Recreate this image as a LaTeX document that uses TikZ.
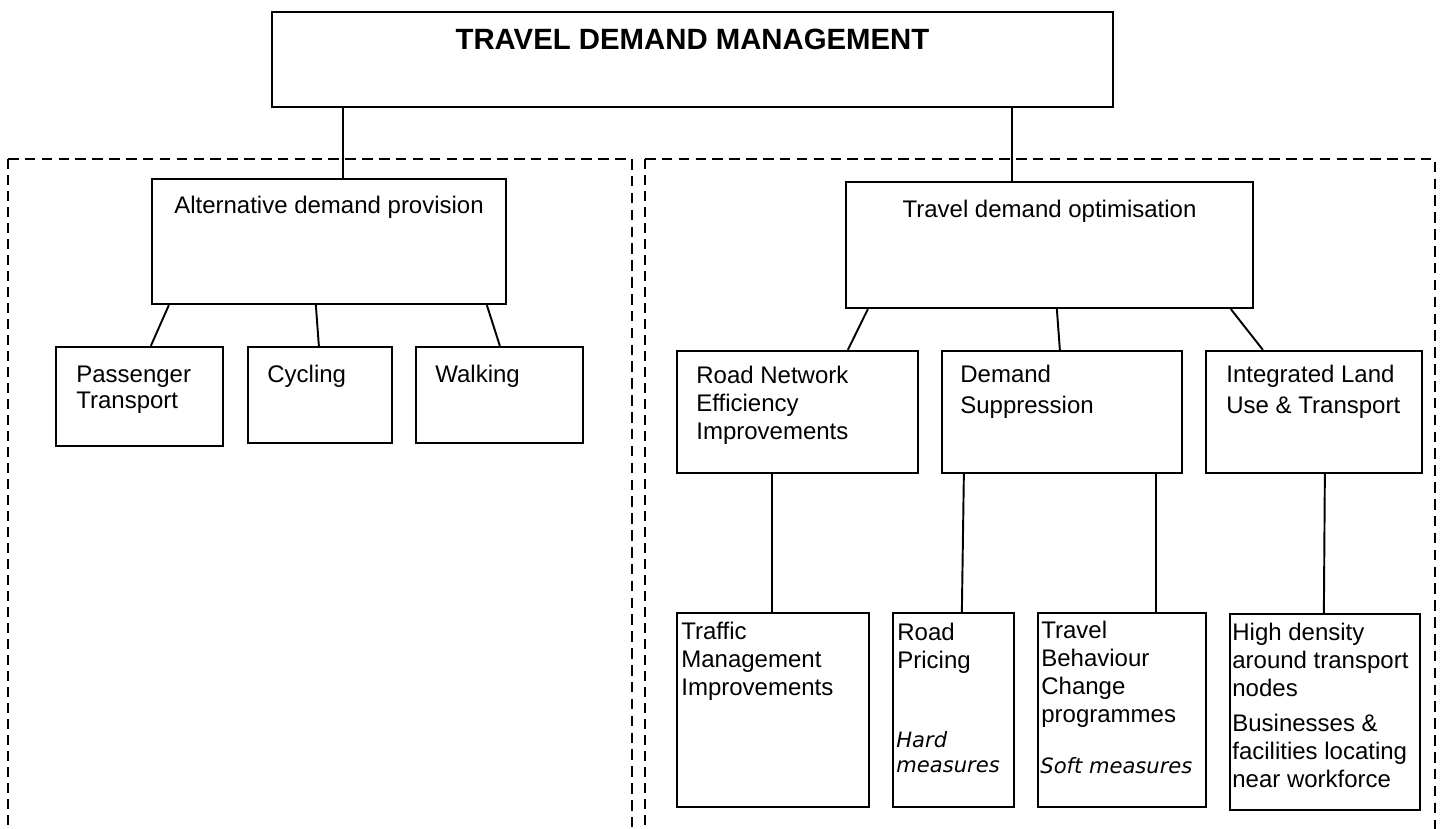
\documentclass[tikz,border=0pt]{standalone}
\usepackage{fontspec}
\setmainfont{Liberation Sans}
\newfontfamily\measfont{DejaVu Sans}
\usetikzlibrary{fit}

\begin{document}
\begin{tikzpicture}[x=0.02cm, y=-0.02cm]
    % ================= styles =================
    % txt: anchored at the baseline of its LAST line
    \tikzset{
        box/.style={draw=black, line width=1.3pt, inner sep=0pt},
        link/.style={line width=1.1pt, black},
        frame/.style={line width=1.2pt, dash pattern=on 6pt off 3.6pt},
        frameside/.style={line width=0.6pt, dash pattern=on 5.7pt off 3.4pt},
        txt/.style={anchor=base west, align=left, inner sep=0pt, font=\fontsize{13.66}{15.9}\selectfont},
        ctxt/.style={anchor=base, inner sep=0pt, font=\fontsize{13.66}{15.9}\selectfont},
        meas/.style={anchor=base west, align=left, inner sep=0pt, font=\measfont\itshape\fontsize{12}{14.2}\selectfont}
    }
    \useasboundingbox (0,0) rectangle (1442,828);

    % ================= dashed frames =================
    \draw[frame] (8,159) -- (632,159) -- (632,830);
    \draw[frameside] (8,159) -- (8,830);
    \draw[frame] (645,159) -- (1435,159) -- (1435,830);
    \draw[frameside] (645,159) -- (645,830);

    % ================= top level =================
    \node[box, fit={(272,12) (1113,107)}] (tdm) {};
    \node[anchor=base, inner sep=0pt, font=\fontsize{16.7}{20}\selectfont\bfseries] (tdmtxt) at (692.5,50) {TRAVEL DEMAND MANAGEMENT};

    % ================= left: alternative provision =================
    \node[box, fit={(152,179) (506,304)}] (adp) {};
    \node[ctxt] (adptxt) at (329,213) {Alternative demand provision};

    \node[box, fit={(56,347) (223,446)}] (pt) {};
    \node[txt, font=\fontsize{13.66}{14.6}\selectfont] (pttxt) at (76,408) {Passenger\\Transport};
    \node[box, fit={(248,347) (392,443)}] (cyc) {};
    \node[txt] (cyctxt) at (267,382) {Cycling};
    \node[box, fit={(416,347) (583,443)}] (walk) {};
    \node[txt] (walktxt) at (435,382) {Walking};

    % ================= right: optimisation =================
    \node[box, fit={(846,182) (1253,308)}] (tdo) {};
    \node[ctxt] (tdotxt) at (1049.5,217) {Travel demand optimisation};

    \node[box, fit={(677,351) (918,473)}] (rne) {};
    \node[txt] (rnetxt) at (696,439) {Road Network\\Efficiency\\Improvements};
    \node[box, fit={(942,351) (1182,473)}] (dsup) {};
    \node[txt, font=\fontsize{13.66}{17.2}\selectfont] (dsuptxt) at (960,413) {Demand\\Suppression};
    \node[box, fit={(1206,351) (1422,473)}] (ilu) {};
    \node[txt, font=\fontsize{13.66}{17.2}\selectfont] (ilutxt) at (1226,413) {Integrated Land\\Use \& Transport};

    % ================= measures =================
    \node[box, fit={(677,613) (869,807)}] (tmi) {};
    \node[txt] (tmitxt) at (681,695) {Traffic\\Management\\Improvements};
    \node[box, fit={(893,613) (1014,807)}] (rp) {};
    \node[txt] (rptxt) at (897,668) {Road\\Pricing};
    \node[meas] (hard) at (896,772) {Hard\\measures};
    \node[box, fit={(1038,613) (1206,807)}] (tbc) {};
    \node[txt] (tbctxt) at (1041,722) {Travel\\Behaviour\\Change\\programmes};
    \node[meas] (soft) at (1040,773) {Soft measures};
    \node[box, fit={(1230,614) (1420,810)}] (hd) {};
    \node[txt] (hdtxt) at (1232,787) {High density\\around transport\\nodes\\[4pt]Businesses \&\\facilities locating\\near workforce};

    % ================= connectors =================
    \draw[link] ([shift={(72,0)}]tdm.south west) -- ([shift={(192,0)}]adp.north west);
    \draw[link] ([shift={(741,0)}]tdm.south west) -- ([shift={(167,0)}]tdo.north west);

    \draw[link] ([shift={(18,0)}]adp.south west) -- ([shift={(96,0)}]pt.north west);
    \draw[link] ([shift={(165,0)}]adp.south west) -- ([shift={(72,0)}]cyc.north west);
    \draw[link] ([shift={(336,0)}]adp.south west) -- ([shift={(85,0)}]walk.north west);

    \draw[link] ([shift={(23,0)}]tdo.south west) -- ([shift={(172,0)}]rne.north west);
    \draw[link] ([shift={(212,0)}]tdo.south west) -- ([shift={(119,0)}]dsup.north west);
    \draw[link] ([shift={(386,0)}]tdo.south west) -- ([shift={(58,0)}]ilu.north west);

    \draw[link] ([shift={(96,0)}]rne.south west) -- ([shift={(96,0)}]tmi.north west);
    \draw[link] ([shift={(23,0)}]dsup.south west) -- ([shift={(70,0)}]rp.north west);
    \draw[link] ([shift={(215,0)}]dsup.south west) -- ([shift={(119,0)}]tbc.north west);
    \draw[link] ([shift={(120,0)}]ilu.south west) -- ([shift={(95,0)}]hd.north west);

\end{tikzpicture}
\end{document}
